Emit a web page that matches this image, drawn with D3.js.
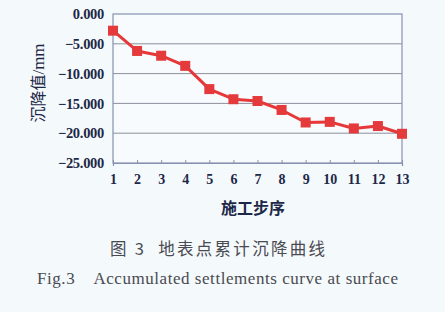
<!DOCTYPE html>
<html lang="zh">
<head>
  <meta charset="utf-8">
  <script src="https://d3js.org/d3.v7.min.js"></script>
  <style>
    body { margin: 0; background: #f4f9fb; }
  </style>
</head>
<body>
<script>
// construction steps and accumulated settlement (mm)
var steps = [1, 2, 3, 4, 5, 6, 7, 8, 9, 10, 11, 12, 13];
var settlement = [-2.8, -6.2, -7.0, -8.7, -12.6, -14.3, -14.6, -16.1, -18.2, -18.1, -19.2, -18.8, -20.1];
var yTicks = [0, -5, -10, -15, -20, -25];

var w = 445, h = 312;
var mLeft = 113, mRight = 402, mTop = 14, mBottom = 163;

var svg = d3.select("body").append("svg")
  .attr("width", w)
  .attr("height", h);

var x = d3.scaleLinear().domain([1, 13]).range([mLeft, mRight]);
var y = d3.scaleLinear().domain([-25, 0]).range([mBottom, mTop]);

// plot background + gridlines
svg.append("rect")
  .attr("x", mLeft).attr("y", mTop)
  .attr("width", mRight - mLeft).attr("height", mBottom - mTop)
  .attr("fill", "#f7fbfd");

svg.append("g").selectAll("line")
  .data(yTicks.slice(1, -1))
  .enter().append("line")
  .attr("x1", mLeft).attr("x2", mRight)
  .attr("y1", function(d) { return y(d); })
  .attr("y2", function(d) { return y(d); })
  .attr("stroke", "#8c909c")
  .attr("stroke-width", 1);

svg.append("rect")
  .attr("x", mLeft).attr("y", mTop)
  .attr("width", mRight - mLeft).attr("height", mBottom - mTop)
  .attr("fill", "none")
  .attr("stroke", "#8792b0")
  .attr("stroke-width", 1.2);

// y axis
var yAxis = svg.append("g")
  .attr("transform", "translate(" + mLeft + ",0)")
  .call(d3.axisLeft(y).tickValues(yTicks).tickSize(0).tickPadding(9)
    .tickFormat(function(d) { return d === 0 ? "0.000" : "\u2212" + d3.format(",.3f")(-d); }));
yAxis.select(".domain").remove();
yAxis.selectAll("text")
  .attr("font-family", "'Liberation Serif', serif")
  .attr("font-weight", "bold")
  .attr("font-size", 14.5)
  .attr("letter-spacing", -0.3)
  .attr("fill", "#1d2848");

// x axis
var xAxis = svg.append("g")
  .attr("transform", "translate(0," + mBottom + ")")
  .call(d3.axisBottom(x).tickValues(steps).tickSize(3).tickPadding(8).tickFormat(d3.format("d")));
xAxis.select(".domain").attr("stroke", "#8792b0").attr("stroke-width", 1.2);
xAxis.selectAll(".tick line").attr("stroke", "#8792b0").attr("transform", "translate(0,-3)");
xAxis.selectAll("text")
  .attr("font-family", "'Liberation Serif', serif")
  .attr("font-weight", "bold")
  .attr("font-size", 14)
  .attr("fill", "#1d2848");

// line + markers
var line = d3.line()
  .x(function(d, i) { return x(steps[i]); })
  .y(function(d) { return y(d); });

svg.append("path")
  .datum(settlement)
  .attr("d", line)
  .attr("fill", "none")
  .attr("stroke", "#e63838")
  .attr("stroke-width", 3)
  .attr("stroke-linejoin", "round");

var ms = 10;
svg.selectAll("rect.pt")
  .data(settlement)
  .enter().append("rect")
  .attr("class", "pt")
  .attr("x", function(d, i) { return x(steps[i]) - ms / 2; })
  .attr("y", function(d) { return y(d) - ms / 2; })
  .attr("width", ms).attr("height", ms)
  .attr("fill", "#e43a3c");

// axis titles
var yl = svg.append("text")
  .attr("transform", "translate(44,83) rotate(-90)")
  .attr("text-anchor", "middle")
  .attr("font-size", 16)
  .attr("fill", "#1d2848");
yl.append("tspan").attr("font-family", "'Noto Sans CJK SC', sans-serif").text("沉降值");
yl.append("tspan").attr("font-family", "'Liberation Serif', serif").attr("font-size", 17).text("/mm");

svg.append("text")
  .attr("x", 253).attr("y", 214)
  .attr("text-anchor", "middle")
  .attr("font-family", "'Noto Sans CJK SC', sans-serif")
  .attr("font-weight", "bold")
  .attr("font-size", 16)
  .attr("fill", "#1d2848")
  .text("施工步序");

// captions
svg.append("text")
  .attr("x", 110).attr("y", 255)
  .attr("font-family", "'Noto Sans CJK SC', sans-serif")
  .attr("font-size", 16.5)
  .attr("fill", "#4a4a52")
  .attr("textLength", 215)
  .attr("lengthAdjust", "spacing")
  .attr("xml:space", "preserve")
  .text("图 3  地表点累计沉降曲线");

svg.append("text")
  .attr("x", 37).attr("y", 284)
  .attr("font-family", "'Liberation Serif', serif")
  .attr("font-size", 17)
  .attr("fill", "#4a4a52")
  .attr("textLength", 361)
  .attr("lengthAdjust", "spacing")
  .attr("xml:space", "preserve")
  .text("Fig.3    Accumulated settlements curve at surface");
</script>
</body>
</html>
